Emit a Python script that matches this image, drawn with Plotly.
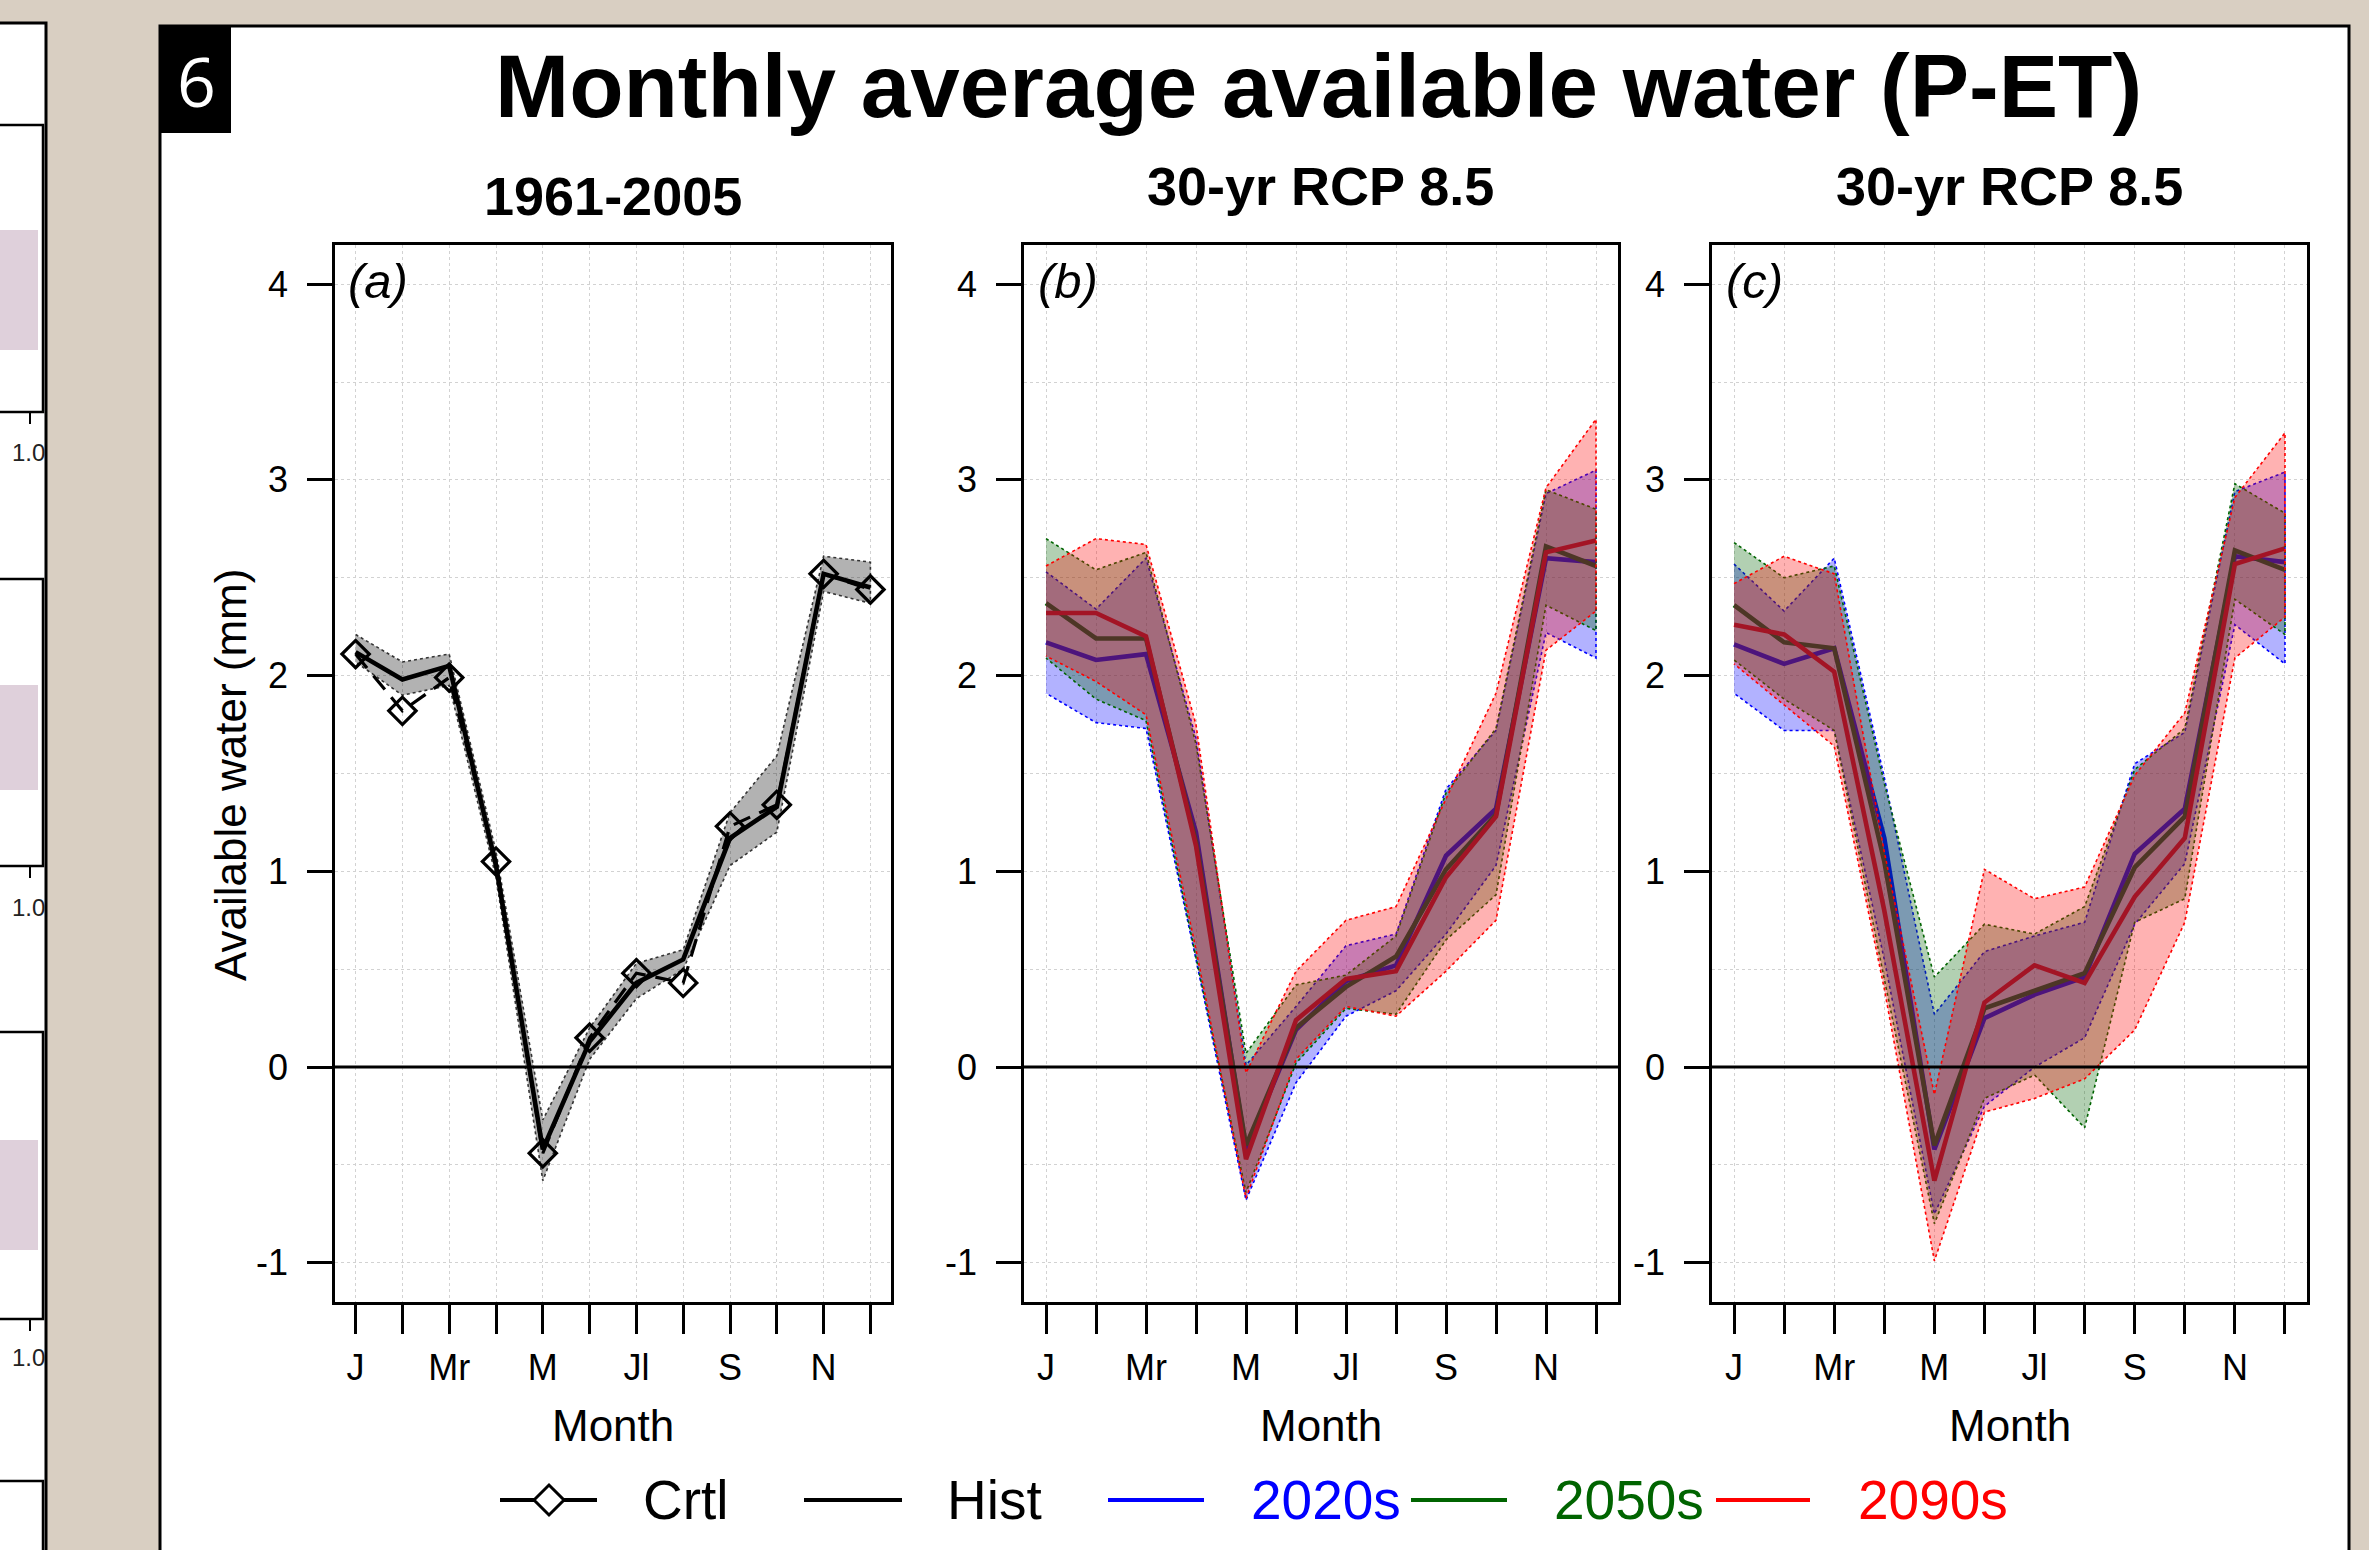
import plotly.graph_objects as go

W, H = 2369, 1550

# ---------------- data ----------------
months = list(range(1, 13))
month_ticktext = ["J", "", "Mr", "", "M", "", "Jl", "", "S", "", "N", ""]
y_ticks = [-1, 0, 1, 2, 3, 4]

# panel (a) 1961-2005
crtl = [2.11, 1.82, 1.99, 1.05, -0.44, 0.15, 0.48, 0.43, 1.23, 1.34, 2.52, 2.44]
hist = [2.12, 1.98, 2.05, 1.03, -0.42, 0.13, 0.43, 0.55, 1.17, 1.33, 2.52, 2.45]
hist_lo = [2.07, 1.90, 1.95, 0.97, -0.58, 0.04, 0.35, 0.50, 1.03, 1.20, 2.43, 2.37]
hist_hi = [2.21, 2.07, 2.11, 1.10, -0.27, 0.20, 0.53, 0.60, 1.30, 1.59, 2.61, 2.58]

# panel (b) 30-yr RCP 8.5
b_2020 = [2.17, 2.08, 2.11, 1.20, -0.42, 0.19, 0.44, 0.52, 1.08, 1.32, 2.60, 2.58]
b_2050 = [2.37, 2.19, 2.19, 1.15, -0.40, 0.20, 0.41, 0.565, 1.01, 1.29, 2.66, 2.56]
b_2090 = [2.32, 2.32, 2.20, 1.13, -0.47, 0.24, 0.45, 0.49, 0.97, 1.28, 2.63, 2.69]
b_2020_lo = [1.91, 1.76, 1.73, 0.55, -0.68, -0.08, 0.26, 0.39, 0.68, 1.03, 2.22, 2.09]
b_2020_hi = [2.53, 2.34, 2.60, 1.68, 0.01, 0.31, 0.62, 0.68, 1.42, 1.72, 2.93, 3.05]
b_2050_lo = [2.09, 1.88, 1.77, 0.56, -0.64, 0.02, 0.30, 0.27, 0.65, 0.88, 2.36, 2.23]
b_2050_hi = [2.70, 2.54, 2.63, 1.65, 0.07, 0.42, 0.47, 0.67, 1.40, 1.73, 2.95, 2.85]
b_2090_lo = [2.10, 1.97, 1.80, 0.60, -0.67, 0.04, 0.31, 0.26, 0.49, 0.75, 2.13, 2.33]
b_2090_hi = [2.56, 2.70, 2.67, 1.75, -0.03, 0.49, 0.75, 0.82, 1.37, 1.91, 2.96, 3.31]

# panel (c) 30-yr RCP 8.5
c_2020 = [2.16, 2.06, 2.14, 1.17, -0.42, 0.25, 0.37, 0.46, 1.09, 1.32, 2.61, 2.58]
c_2050 = [2.36, 2.17, 2.14, 1.05, -0.40, 0.30, 0.39, 0.48, 1.02, 1.28, 2.64, 2.54]
c_2090 = [2.26, 2.21, 2.02, 0.80, -0.58, 0.33, 0.52, 0.43, 0.87, 1.17, 2.57, 2.65]
c_2020_lo = [1.91, 1.72, 1.72, 0.55, -0.75, -0.20, 0.00, 0.15, 0.73, 1.04, 2.26, 2.06]
c_2020_hi = [2.57, 2.33, 2.60, 1.48, 0.27, 0.59, 0.67, 0.74, 1.55, 1.71, 2.94, 3.04]
c_2050_lo = [2.08, 1.88, 1.72, 0.45, -0.80, -0.16, -0.04, -0.31, 0.74, 0.86, 2.39, 2.21]
c_2050_hi = [2.68, 2.50, 2.56, 1.45, 0.46, 0.73, 0.68, 0.82, 1.52, 1.73, 2.98, 2.83]
c_2090_lo = [2.06, 1.85, 1.64, 0.40, -0.99, -0.23, -0.16, -0.06, 0.19, 0.74, 2.09, 2.30]
c_2090_hi = [2.47, 2.61, 2.52, 1.10, -0.14, 1.01, 0.86, 0.92, 1.49, 1.81, 2.91, 3.24]

series_names = ["Crtl", "Hist", "2020s", "2050s", "2090s"]
panel_titles = ["1961-2005", "30-yr RCP 8.5", "30-yr RCP 8.5"]
panel_letters = ["(a)", "(b)", "(c)"]

# ---------------- styling ----------------
FONT = "Liberation Sans, Arial, sans-serif"
BLUE, GREEN, RED = "#0000FF", "#006400", "#FF0000"
FILLS = {BLUE: "rgba(0,0,255,0.30)", GREEN: "rgba(0,100,0,0.30)", RED: "rgba(255,0,0,0.30)"}


def px(x):
    return x / W


def py(y):
    return 1 - y / H


fig = go.Figure()


def band(xa, ya, lo, hi, fill, edge):
    fig.add_trace(go.Scatter(
        x=months + months[::-1], y=hi + lo[::-1], mode="lines", fill="toself",
        fillcolor=fill, line=dict(color=edge, width=1.6, dash="dot"),
        xaxis=xa, yaxis=ya, hoverinfo="skip", showlegend=False))


def line(xa, ya, vals, color, width=4.6, dash="solid", marker=False):
    fig.add_trace(go.Scatter(
        x=months, y=vals, mode="lines+markers" if marker else "lines",
        line=dict(color=color, width=width, dash=dash),
        marker=dict(symbol="diamond-open", size=21, color="black", line=dict(width=3.2, color="black")),
        xaxis=xa, yaxis=ya, hoverinfo="skip", showlegend=False))


# panel a
band("x", "y", hist_lo, hist_hi, "rgba(0,0,0,0.30)", "#333333")
line("x", "y", hist, "black", width=4.6)
line("x", "y", crtl, "black", width=3.2, dash="18px,10px", marker=True)

# panels b and c: lines first, translucent ranges on top
for xa, ya, v20, v50, v90, lo20, hi20, lo50, hi50, lo90, hi90 in [
    ("x2", "y2", b_2020, b_2050, b_2090, b_2020_lo, b_2020_hi, b_2050_lo, b_2050_hi, b_2090_lo, b_2090_hi),
    ("x3", "y3", c_2020, c_2050, c_2090, c_2020_lo, c_2020_hi, c_2050_lo, c_2050_hi, c_2090_lo, c_2090_hi),
]:
    line(xa, ya, v20, BLUE)
    line(xa, ya, v50, GREEN)
    line(xa, ya, v90, RED)
    band(xa, ya, lo20, hi20, FILLS[BLUE], BLUE)
    band(xa, ya, lo50, hi50, FILLS[GREEN], GREEN)
    band(xa, ya, lo90, hi90, FILLS[RED], RED)

# ---------------- axes ----------------
x_domains = [(335, 891), (1024, 1618), (1712, 2307)]
y_dom = [py(1302), py(245)]
grid = dict(showgrid=True, gridcolor="#d2d2d2", gridwidth=1, griddash="dot")
tickfont = dict(family=FONT, size=36, color="black")

layout_axes = {}
for i, (x0, x1) in enumerate(x_domains):
    sfx = "" if i == 0 else str(i + 1)
    layout_axes["xaxis" + sfx] = dict(
        domain=[px(x0), px(x1)], range=[0.56, 12.44], anchor="y" + sfx,
        tickmode="array", tickvals=months, ticktext=month_ticktext,
        ticks="outside", ticklen=29, tickwidth=2.5, tickcolor="black",
        ticklabelstandoff=3, tickfont=tickfont,
        showline=True, mirror=True, linecolor="black", linewidth=2.5,
        zeroline=False, fixedrange=True, **grid)
    layout_axes["yaxis" + sfx] = dict(
        domain=y_dom, range=[-1.2, 4.2], anchor="x" + sfx,
        tickmode="array", tickvals=y_ticks, ticktext=[str(v) for v in y_ticks],
        ticks="outside", ticklen=25, tickwidth=2.5, tickcolor="black",
        ticklabelstandoff=12, tickfont=tickfont,
        showline=True, mirror=True, linecolor="black", linewidth=2.5,
        zeroline=False, fixedrange=True,
        minor=dict(dtick=0.5, tick0=0, showgrid=True, gridcolor="#d2d2d2", griddash="dot", gridwidth=1),
        **grid)

fig.update_layout(
    width=W, height=H, margin=dict(l=0, r=0, t=0, b=0),
    paper_bgcolor="#d9cfc2", plot_bgcolor="white", showlegend=False,
    font=dict(family=FONT, color="black"),
    **layout_axes)

shapes = []
# left cut-off neighbouring panel
shapes.append(dict(type="rect", xref="paper", yref="paper", x0=px(-5), x1=px(46), y0=py(1560), y1=py(23),
                   fillcolor="white", line=dict(color="black", width=3), layer="below"))
for top, bot in [(125, 412), (579, 866), (1032, 1319), (1481, 1600)]:
    shapes.append(dict(type="rect", xref="paper", yref="paper", x0=px(-5), x1=px(43), y0=py(bot), y1=py(top),
                       fillcolor="white", line=dict(color="black", width=2.5), layer="below"))
    shapes.append(dict(type="line", xref="paper", yref="paper", x0=px(30), x1=px(30), y0=py(bot), y1=py(bot + 12),
                       line=dict(color="black", width=2), layer="below"))
for top, bot in [(230, 350), (685, 790), (1140, 1250)]:
    shapes.append(dict(type="rect", xref="paper", yref="paper", x0=px(-5), x1=px(38), y0=py(bot), y1=py(top),
                       fillcolor="rgba(185,150,175,0.45)", line=dict(width=0), layer="below"))
# main white panel
shapes.append(dict(type="rect", xref="paper", yref="paper", x0=px(160), x1=px(2349), y0=py(1600), y1=py(26),
                   fillcolor="white", line=dict(color="black", width=3), layer="below"))
# panel number box
shapes.append(dict(type="rect", xref="paper", yref="paper", x0=px(160), x1=px(231), y0=py(133), y1=py(26),
                   fillcolor="black", line=dict(width=0), layer="above"))
# zero lines
for sfx in ["", "2", "3"]:
    shapes.append(dict(type="line", xref="x" + sfx + " domain", yref="y" + sfx, x0=0, x1=1, y0=0, y1=0,
                       line=dict(color="black", width=3), layer="above"))

# custom legend (pixel positions along the bottom)
leg_y = 1500
leg_lines = [(500, 597, "black"), (804, 902, "black"), (1108, 1204, BLUE), (1411, 1507, GREEN), (1716, 1810, RED)]
for x0, x1, col in leg_lines:
    shapes.append(dict(type="line", xref="paper", yref="paper", x0=px(x0), x1=px(x1), y0=py(leg_y), y1=py(leg_y),
                       line=dict(color=col, width=4), layer="above"))
dx, dy = 15, 15
cx = 549
shapes.append(dict(type="path", xref="paper", yref="paper",
                   path=f"M {px(cx-dx)},{py(leg_y)} L {px(cx)},{py(leg_y-dy)} L {px(cx+dx)},{py(leg_y)} L {px(cx)},{py(leg_y+dy)} Z",
                   fillcolor="white", line=dict(color="black", width=3), layer="above"))


def ann(text, x, y, size, family=FONT, color="black", xanchor="center", yanchor="middle", **kw):
    return dict(text=text, x=x, y=y, xref=kw.pop("xref", "paper"), yref=kw.pop("yref", "paper"),
                xanchor=xanchor, yanchor=yanchor, showarrow=False,
                font=dict(family=family, size=size, color=color), **kw)


annotations = []
annotations.append(ann("6", px(196), py(80), 68, family="Open Sans, sans-serif", color="white"))
annotations.append(ann("<b>Monthly average available water (P-ET)</b>", px(1318), py(86), 89))
title_y = [196, 186, 186]
for i, (x0, x1) in enumerate(x_domains):
    cxp = (x0 + x1) / 2
    annotations.append(ann("<b>" + panel_titles[i] + "</b>", px(cxp), py(title_y[i]), 54))
    annotations.append(ann("Month", px(cxp), py(1425), 44))
    sfx = "" if i == 0 else str(i + 1)
    annotations.append(ann("<i>" + panel_letters[i] + "</i>", 0.02, 0.966, 49,
                           xanchor="left", xref="x" + sfx + " domain", yref="y" + sfx + " domain"))
annotations.append(ann("Available water (mm)", px(230), py(775), 44, textangle=-90))
leg_text = [(641, "black"), (945, "black"), (1249, BLUE), (1552, GREEN), (1856, RED)]
for (x0, col), name in zip(leg_text, series_names):
    annotations.append(ann(name, px(x0), py(leg_y), 55, color=col, xanchor="left"))
for yy in [453, 907, 1357]:
    annotations.append(ann("1.0", px(28), py(yy), 24, color="#222222"))

fig.update_layout(shapes=shapes, annotations=annotations)
fig.write_html("out.html")
